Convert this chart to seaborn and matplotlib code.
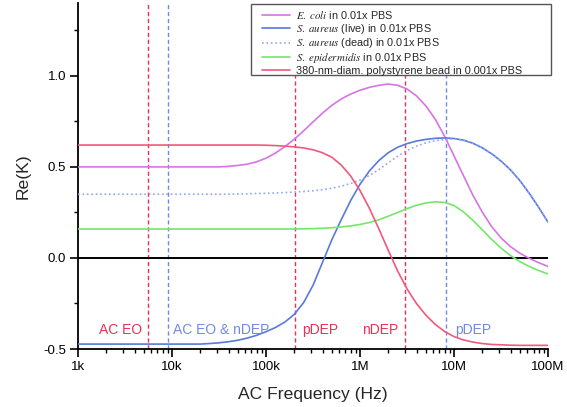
import numpy as np
import pandas as pd
import matplotlib
matplotlib.use("Agg")
import matplotlib.pyplot as plt
import matplotlib.ticker as mticker
from matplotlib.patches import Rectangle
import seaborn as sns

# log10 of the AC frequency (Hz), 1 kHz .. 100 MHz
log_freq = [3.0, 3.1, 3.2, 3.3, 3.4, 3.5, 3.6, 3.7, 3.8, 3.9,
            4.0, 4.1, 4.2, 4.3, 4.4, 4.5, 4.6, 4.7, 4.8, 4.9,
            5.0, 5.1, 5.2, 5.3, 5.4, 5.5, 5.6, 5.7, 5.8, 5.9,
            6.0, 6.1, 6.2, 6.3, 6.4, 6.5, 6.6, 6.7, 6.8, 6.9,
            7.0, 7.1, 7.2, 7.3, 7.4, 7.5, 7.6, 7.7, 7.8, 7.9, 8.0]

e_coli = [0.50, 0.50, 0.50, 0.50, 0.50, 0.50, 0.50, 0.50, 0.50, 0.50,
          0.50, 0.50, 0.50, 0.50, 0.50, 0.50, 0.503, 0.508, 0.515, 0.528,
          0.548, 0.576, 0.611, 0.652, 0.698, 0.747, 0.795, 0.838, 0.873, 0.900,
          0.921, 0.937, 0.948, 0.955, 0.948, 0.928, 0.890, 0.835, 0.762, 0.668,
          0.56, 0.452, 0.345, 0.252, 0.172, 0.11, 0.062, 0.026, -0.002, -0.026, -0.047]

s_aureus_live = [-0.473, -0.473, -0.473, -0.473, -0.473, -0.473, -0.473, -0.473, -0.473, -0.473,
                 -0.473, -0.473, -0.473, -0.473, -0.470, -0.466, -0.46, -0.452, -0.44, -0.425,
                 -0.405, -0.382, -0.352, -0.31, -0.245, -0.15, -0.025, 0.10, 0.21, 0.315,
                 0.405, 0.478, 0.535, 0.578, 0.608, 0.628, 0.642, 0.651, 0.657, 0.659,
                 0.656, 0.647, 0.63, 0.605, 0.572, 0.532, 0.484, 0.425, 0.355, 0.278, 0.196]

s_aureus_dead = [0.35, 0.35, 0.35, 0.35, 0.35, 0.35, 0.35, 0.35, 0.35, 0.35,
                 0.35, 0.35, 0.35, 0.35, 0.35, 0.35, 0.35, 0.351, 0.352, 0.354,
                 0.355, 0.357, 0.359, 0.362, 0.365, 0.369, 0.375, 0.383, 0.394, 0.409,
                 0.428, 0.453, 0.485, 0.522, 0.558, 0.59, 0.614, 0.632, 0.644, 0.651,
                 0.654, 0.646, 0.63, 0.605, 0.572, 0.532, 0.484, 0.425, 0.355, 0.278, 0.196]

s_epidermidis = [0.159, 0.159, 0.159, 0.159, 0.159, 0.159, 0.159, 0.159, 0.159, 0.159,
                 0.159, 0.159, 0.159, 0.159, 0.159, 0.159, 0.159, 0.159, 0.159, 0.159,
                 0.159, 0.159, 0.159, 0.159, 0.160, 0.161, 0.163, 0.166, 0.17, 0.176,
                 0.184, 0.195, 0.21, 0.229, 0.25, 0.271, 0.289, 0.302, 0.308, 0.305,
                 0.288, 0.253, 0.207, 0.155, 0.102, 0.054, 0.013, -0.02, -0.047, -0.069, -0.088]

ps_bead = [0.62, 0.62, 0.62, 0.62, 0.62, 0.62, 0.62, 0.62, 0.62, 0.62,
           0.62, 0.62, 0.62, 0.62, 0.62, 0.62, 0.62, 0.62, 0.62, 0.62,
           0.619, 0.617, 0.614, 0.61, 0.604, 0.594, 0.578, 0.553, 0.51, 0.45,
           0.37, 0.272, 0.16, 0.042, -0.072, -0.17, -0.25, -0.314, -0.365, -0.404,
           -0.432, -0.45, -0.462, -0.47, -0.475, -0.477, -0.479, -0.48, -0.48, -0.48, -0.48]

# regime boundaries (Hz)
red_lines = [5.5e3, 2.04e5, 3.0e6]
blue_lines = [9.1e3, 8.2e6]

# regime labels: text, frequency, alignment, colour key
regions = [("AC EO", 4.76e3, "right", "red"),
           ("AC EO & nDEP", 1.03e4, "left", "blue"),
           ("pDEP", 2.4e5, "left", "red"),
           ("nDEP", 2.53e6, "right", "red"),
           ("pDEP", 1.03e7, "left", "blue")]

sns.set_theme(style="ticks")
plt.rcParams["font.family"] = ["Liberation Sans", "DejaVu Sans"]
plt.rcParams["mathtext.fontset"] = "stix"
plt.rcParams["axes.unicode_minus"] = False

freq = [10 ** v for v in log_freq]

fig = plt.figure(figsize=(5.67, 4.07), dpi=100)
ax = fig.add_axes([0.1376, 0.1425, 0.829, 0.8501])

red_c = "#ee2f55"
blue_c = "#7189e6"

for f in red_lines:
    ax.axvline(f, color=red_c, lw=1.0, ls=(0, (3, 2)), zorder=1)
for f in blue_lines:
    ax.axvline(f, color=blue_c, lw=1.0, ls=(0, (3, 2)), zorder=1)

ax.axhline(0, color="black", lw=1.4, zorder=2)

series = [
    (e_coli, r"$\mathit{E.\ coli}$ in 0.01x PBS", "#d675e4", "-"),
    (s_aureus_live, r"$\mathit{S.\ aureus}$ (live) in 0.01x PBS", "#5879de", "-"),
    (s_aureus_dead, r"$\mathit{S.\ aureus}$ (dead) in 0.01x PBS", "#93a7ef", ":"),
    (s_epidermidis, r"$\mathit{S.\ epidermidis}$ in 0.01x PBS", "#72e86a", "-"),
    (ps_bead, "380-nm-diam. polystyrene bead in 0.001x PBS", "#f1587b", "-"),
]
for vals, lab, col, ls in series:
    sns.lineplot(x=freq, y=vals, ax=ax, color=col, linestyle=ls, lw=1.2,
                 label=lab, zorder=3)

for txt, f, ha, key in regions:
    ax.text(f, -0.393, txt, ha=ha, va="center", fontsize=10,
            color=red_c if key == "red" else blue_c)

ax.set_xscale("log")
ax.set_xlim(1e3, 1e8)
ax.set_ylim(-0.5, 1.4)
ax.set_xticks([1e3, 1e4, 1e5, 1e6, 1e7, 1e8])
ax.set_xticklabels(["1k", "10k", "100k", "1M", "10M", "100M"])
ax.xaxis.set_minor_locator(mticker.LogLocator(base=10, subs=np.arange(2, 10)))
ax.xaxis.set_minor_formatter(mticker.NullFormatter())
ax.set_yticks([-0.5, 0.0, 0.5, 1.0])
ax.set_yticklabels(["-0.5", "0.0", "0.5", "1.0"])
ax.yaxis.set_minor_locator(mticker.MultipleLocator(0.25))

ax.tick_params(which="major", direction="out", length=5.5, width=1.2,
               labelsize=9.5, colors="black", pad=3)
ax.tick_params(which="minor", direction="out", length=3, width=1.0, colors="black")
for side in ["top", "right"]:
    ax.spines[side].set_visible(False)
for side in ["left", "bottom"]:
    ax.spines[side].set_linewidth(1.3)
    ax.spines[side].set_color("black")

ax.set_xlabel("AC Frequency (Hz)", fontsize=12.6, labelpad=10)
ax.set_ylabel("Re(K)", fontsize=12.6, labelpad=9)

# legend frame drawn separately so the entries can sit inset from its left edge
frame = Rectangle((0.368, 0.792), 0.638, 0.205, transform=ax.transAxes,
                  facecolor="white", edgecolor="#555555", lw=1.0,
                  clip_on=False, zorder=4)
ax.add_patch(frame)

leg = ax.legend(loc="upper left", bbox_to_anchor=(0.387, 0.99),
                fontsize=7.8, frameon=False, borderaxespad=0.0,
                handlelength=2.6, handletextpad=0.5, labelspacing=0.08,
                borderpad=0.2)
leg.set_zorder(5)

fig.savefig("out.png", dpi=100)
